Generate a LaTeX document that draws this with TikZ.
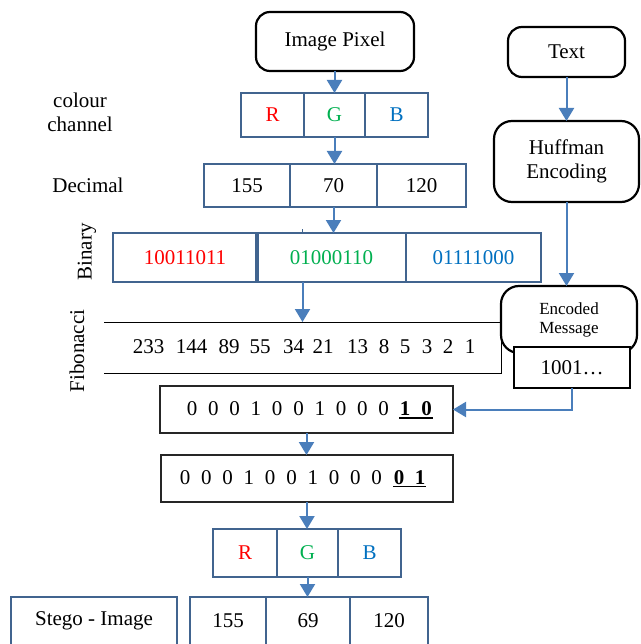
\documentclass[tikz,border=0pt]{standalone}
\usepackage{fontspec}
\setmainfont{Liberation Serif}
\usetikzlibrary{arrows.meta,calc}
\definecolor{boxblue}{HTML}{41648F}
\definecolor{arrowblue}{HTML}{4A7EBB}
\definecolor{chred}{HTML}{FF0000}
\definecolor{chgreen}{HTML}{00B050}
\definecolor{chblue}{HTML}{0070C0}

\begin{document}
\begin{tikzpicture}[x=1pt,y=-1pt,
  every node/.style={font=\fontsize{21}{24}\selectfont, inner sep=0pt, outer sep=0pt},
  cell/.style={draw=boxblue, line width=2.5pt, fill=white, align=center},
  roundbox/.style={draw=black, line width=2.2pt, rounded corners=14pt, fill=white, align=center},
  bitbox/.style={draw=black!85, line width=1.2pt},
  arr/.style={draw=arrowblue, line width=2pt, -{Triangle[width=15pt,length=13pt]}},
  digit/.style={anchor=base},
  sidelabel/.style={align=center},
  uline/.style={draw=black, line width=1.6pt}
]
\useasboundingbox (0,0) rectangle (640,644);
\clip (0,0) rectangle (640,644);

% left-hand labels
\node[sidelabel] (lcol) at (80,112.5) {colour\\channel};
\node[sidelabel] (ldec) at (88,185) {Decimal};
\node[sidelabel, rotate=90] (lbin) at (87,252) {Binary};
\node[sidelabel, rotate=90] (lfib) at (77,351) {Fibonacci};

% image pixel and its colour channels
\node[roundbox, minimum width=158pt, minimum height=59pt] (img) at (335,41.5) {Image Pixel};
\node[cell, minimum width=63pt, minimum height=44pt] (r1) at (272.5,115) {\color{chred}R};
\node[cell, minimum width=61pt, minimum height=44pt] (g1) at (334.5,115) {\color{chgreen}G};
\node[cell, minimum width=63pt, minimum height=44pt] (bl1) at (396.5,115) {\color{chblue}B};

% decimal values
\node[cell, minimum width=86pt, minimum height=43pt] (d1) at (247,185.5) {155};
\node[cell, minimum width=87pt, minimum height=43pt] (d2) at (333.5,185.5) {70};
\node[cell, minimum width=89pt, minimum height=43pt] (d3) at (421.5,185.5) {120};

% binary values
\node[cell, minimum width=144pt, minimum height=49pt] (b1) at (185,257.5) {\color{chred}10011011};
\node[cell, minimum width=149pt, minimum height=49pt] (b2) at (331.5,257.5) {\color{chgreen}01000110};
\node[cell, minimum width=135pt, minimum height=49pt] (b3) at (473.5,257.5) {\color{chblue}01111000};
\draw[boxblue, line width=4pt] (b2.north west) -- (b2.south west);

% Fibonacci table
\node[minimum width=397pt, minimum height=51pt] (fib) at (302.5,347.5) {};
\draw[black, line width=1pt] (fib.north west) -- (fib.north east) -- (fib.south east) -- (fib.south west);
\foreach \n/\x [count=\i] in {233/148.5,144/191.5,89/229,55/260,34/293.5,21/323,13/357.5,8/384,5/405,3/427,2/448,1/470}
  \node[digit] (fn\i) at (\x,353) {\n};

% text branch
\node[roundbox, minimum width=117pt, minimum height=50pt] (txt) at (566.5,52) {Text};
\node[roundbox, rounded corners=18pt, minimum width=145pt, minimum height=81pt] (huf) at (566.5,161.5) {Huffman\\Encoding};
\node[roundbox, rounded corners=18pt, minimum width=136pt, minimum height=67pt,
      font=\fontsize{17}{19}\selectfont] (enc) at (569,319.5) {Encoded\\Message};
\node[draw=black, line width=2.2pt, fill=white, minimum width=116pt, minimum height=41pt] (msg) at (572,367.5) {1001…};

% bit strings before and after embedding
\node[bitbox, minimum width=293pt, minimum height=47pt] (bits1) at (306.5,409.5) {};
\node[bitbox, minimum width=292pt, minimum height=47pt] (bits2) at (307,478.5) {};
\foreach \d [count=\i from 0] in {0,0,0,1,0,0,1,0,0,0}
  \node[digit] (pa\i) at ({192+21.3*\i},415) {\d};
\node[digit, font=\fontsize{21}{24}\selectfont\bfseries] (pa10) at (405,415) {1};
\node[digit, font=\fontsize{21}{24}\selectfont\bfseries] (pa11) at (426.5,415) {0};
\draw[uline] ([xshift=-6pt,yshift=-3pt]pa10.base) -- ([xshift=6pt,yshift=-3pt]pa11.base);
\foreach \d [count=\i from 0] in {0,0,0,1,0,0,1,0,0,0}
  \node[digit] (pb\i) at ({185+21.3*\i},484) {\d};
\node[digit, font=\fontsize{21}{24}\selectfont\bfseries] (pb10) at (399,484) {0};
\node[digit, font=\fontsize{21}{24}\selectfont\bfseries] (pb11) at (420,484) {1};
\draw[uline] ([xshift=-6pt,yshift=-2.5pt]pb10.base) -- ([xshift=6pt,yshift=-2.5pt]pb11.base);

% stego pixel
\node[cell, minimum width=64pt, minimum height=48pt] (r2) at (245,553) {\color{chred}R};
\node[cell, minimum width=61pt, minimum height=48pt] (g2) at (307.5,553) {\color{chgreen}G};
\node[cell, minimum width=63pt, minimum height=48pt] (bl2) at (369.5,553) {\color{chblue}B};
\node[cell, minimum width=76pt, minimum height=48pt] (v1) at (228,621) {155};
\node[cell, minimum width=84pt, minimum height=48pt] (v2) at (308,621) {69};
\node[cell, minimum width=78pt, minimum height=48pt] (v3) at (389,621) {120};
\node[cell, minimum width=166pt, minimum height=48pt] (stego) at (94,621) {Stego - Image};

% connectors
\draw[arr] (img.south -| g1) -- (g1.north);
\draw[arr] (g1.south) -- (g1.south |- d2.north);
\draw[arr] (d2.south) -- (d2.south |- b2.north);
\draw[boxblue, line width=1.2pt] (fib.north |- b2.north) -- ++(0,-4);
\draw[arr] (fib.north |- b2.south) -- (fib.north);
\draw[arr] (txt.south) -- (txt.south |- huf.north);
\draw[arr] (huf.south) -- (huf.south |- enc.north);
\draw[arr] (msg.south) |- (bits1.east);
\draw[arr] (bits1.south) -- (bits1.south |- bits2.north);
\draw[arr] (bits2.south) -- (bits2.south |- g2.north);
\draw[arr] (g2.south) -- (g2.south |- v2.north);
\end{tikzpicture}
\end{document}
